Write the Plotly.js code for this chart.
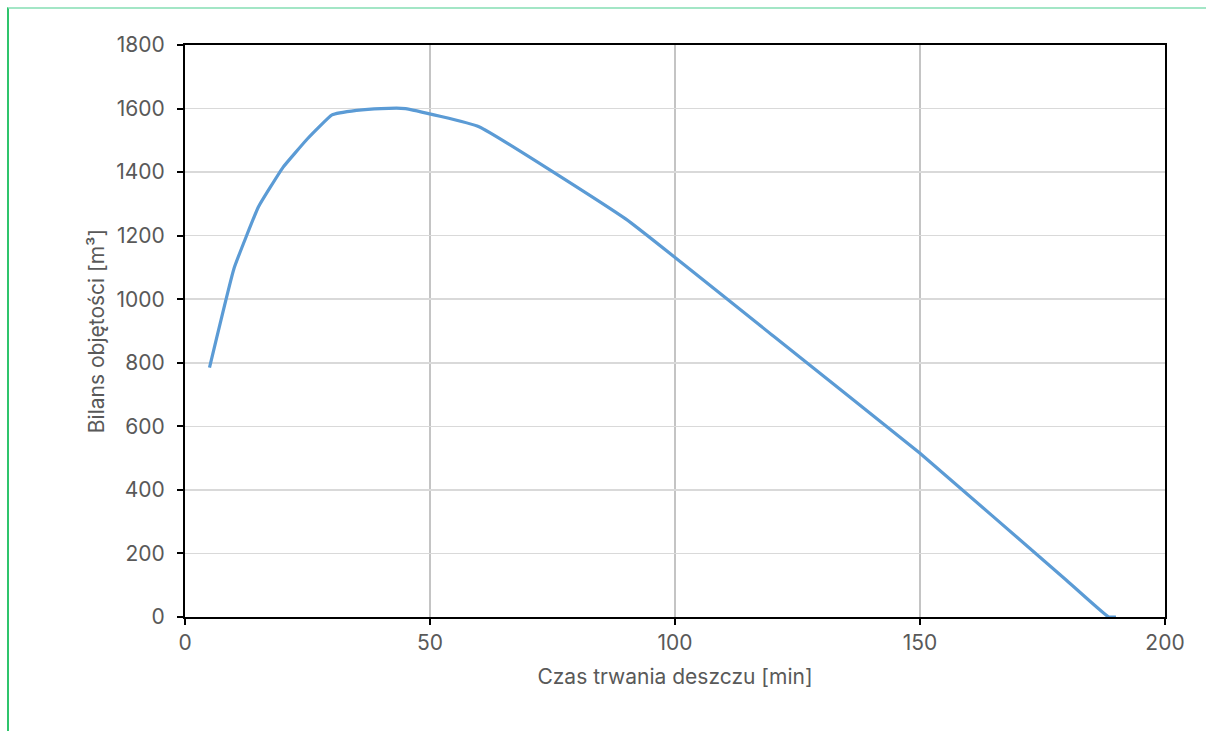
<!DOCTYPE html>
<html>
<head>
<meta charset="utf-8">
<script src="https://cdn.plot.ly/plotly-3.0.1.min.js"></script>
<style>
  html, body { margin: 0; padding: 0; background: #ffffff; }
  #chart { width: 1206px; height: 731px; }
  #frame { position: absolute; left: 7px; top: 7px; width: 1199px; height: 724px;
           border-left: 2px solid #2fc46c; border-top: 2px solid #a3e6c6;
           pointer-events: none; box-sizing: border-box; }
</style>
</head>
<body>
<div id="chart"></div>
<div id="frame"></div>
<script>
// Czas trwania deszczu [min]
const czas = [5, 10, 15, 20, 25, 30, 35, 40, 45, 60, 90, 120, 150, 180, 188.5, 190];
// Bilans objętości [m³]
const bilans = [785, 1097, 1291, 1415, 1505, 1580, 1594, 1600, 1600, 1543, 1252, 885, 515, 114, 0, 0];

const xTicks = [0, 50, 100, 150, 200];
const yTicks = [0, 200, 400, 600, 800, 1000, 1200, 1400, 1600, 1800];

const fontFamily = 'Inter, "Noto Sans", sans-serif';
const textColor = '#595959';
const fs = 21;

const trace = {
  x: czas,
  y: bilans,
  type: 'scatter',
  mode: 'lines',
  line: { color: '#5b9bd5', width: 3.2, shape: 'spline', smoothing: 0.3 },
  hoverinfo: 'x+y'
};

const layout = {
  width: 1206,
  height: 731,
  margin: { l: 185, r: 41, t: 45, b: 114 },
  paper_bgcolor: '#ffffff',
  plot_bgcolor: '#ffffff',
  showlegend: false,
  font: { family: fontFamily, color: textColor, size: fs },
  xaxis: {
    range: [0, 200],
    tickvals: xTicks,
    ticktext: xTicks.map(String),
    showgrid: true,
    gridcolor: '#c4c4c4',
    gridwidth: 1.5,
    zeroline: false,
    showline: true,
    linecolor: '#000000',
    linewidth: 2,
    mirror: true,
    ticks: 'outside',
    ticklen: 6,
    tickwidth: 2,
    tickcolor: '#000000',
    tickfont: { family: fontFamily, color: textColor, size: fs },
    title: { text: 'Czas trwania deszczu [min]', font: { family: fontFamily, color: textColor, size: fs }, standoff: 15 }
  },
  yaxis: {
    range: [0, 1800],
    tickvals: yTicks,
    ticktext: yTicks.map(String),
    showgrid: true,
    gridcolor: '#d9d9d9',
    gridwidth: 1.5,
    zeroline: false,
    showline: true,
    linecolor: '#000000',
    linewidth: 2,
    mirror: true,
    ticks: 'outside',
    ticklen: 6,
    tickwidth: 2,
    tickcolor: '#000000',
    ticklabelstandoff: 8,
    tickfont: { family: fontFamily, color: textColor, size: fs },
    title: { text: 'Bilans objętości [m³]', font: { family: fontFamily, color: textColor, size: fs }, standoff: 6 }
  }
};

Plotly.newPlot('chart', [trace], layout, { displayModeBar: false, staticPlot: true });
</script>
</body>
</html>
